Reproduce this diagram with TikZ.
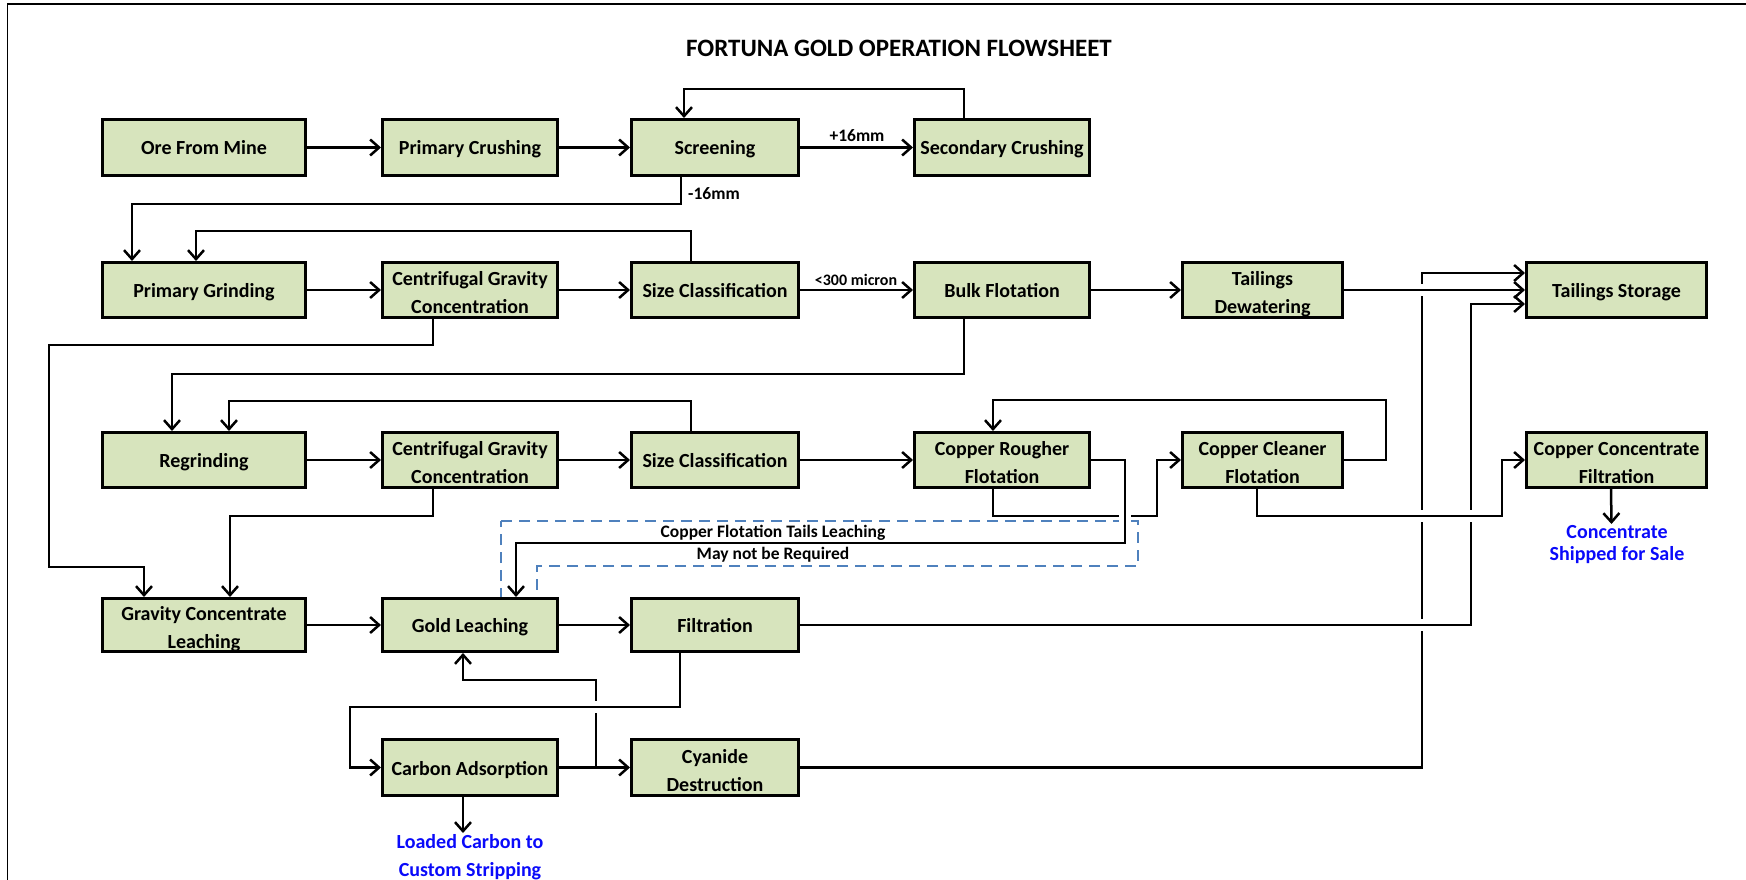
\documentclass[tikz,border=0pt]{standalone}
\usepackage{fontspec}
\setmainfont{Carlito}
\usetikzlibrary{arrows.meta}
\pgfdeclarelayer{wires}
\pgfsetlayers{wires,main}
\definecolor{boxgreen}{RGB}{215,228,189}
\definecolor{noteblue}{RGB}{79,129,189}
\definecolor{outblue}{RGB}{10,10,250}

\begin{document}
\begin{tikzpicture}[x=1pt,y=-1pt,
  >={Straight Barb[length=9pt,width=16pt]},
  box/.style={draw, line width=3pt, fill=boxgreen, inner sep=0pt, align=center,
              font=\bfseries\fontsize{20}{28}\selectfont},
  one/.style={text height=15pt, text depth=0pt},
  two/.style={text height=47pt, text depth=0pt},
  wa/.style={minimum width=203pt}, wb/.style={minimum width=175pt},
  wc/.style={minimum width=167pt}, wd/.style={minimum width=175pt},
  we/.style={minimum width=160pt}, wf/.style={minimum width=180pt},
  ra/.style={minimum height=56pt}, rb/.style={minimum height=55pt},
  rc/.style={minimum height=55pt}, rd/.style={minimum height=53pt},
  re/.style={minimum height=56pt},
  wire/.style={line width=2.5pt, ->},
  over/.style={preaction={draw=white, line width=12pt, -, shorten >=16pt}},
  lbl/.style={inner sep=0pt, font=\bfseries\fontsize{17.5}{21}\selectfont},
  outlbl/.style={inner sep=0pt, align=center, text=outblue, font=\bfseries\fontsize{20}{28}\selectfont},
  dashbox/.style={draw=noteblue, line width=2.2pt, dash pattern=on 11pt off 7pt}
]
\useasboundingbox (0,0) rectangle (1746,880);

% page frame
\draw[line width=2pt] (7,4.5) -- (1746,4.5);
\draw[line width=1.3pt] (7.5,4) -- (7.5,880);

% title
\node[inner sep=0pt, font=\bfseries\fontsize{25}{30}\selectfont] (title) at (899,48) {FORTUNA GOLD OPERATION FLOWSHEET};

% row 1: crushing circuit
\node[box,one,wa,ra] (ore)    at (204,147.5)  {Ore From Mine};
\node[box,one,wb,ra] (pcrush) at (470,147.5)  {Primary Crushing};
\node[box,one,wc,ra] (screen) at (715,147.5)  {Screening};
\node[box,one,wd,ra] (scrush) at (1002,147.5) {Secondary Crushing};

% row 2: grinding and bulk flotation
\node[box,one,wa,rb] (pgrind) at (204,290)    {Primary Grinding};
\node[box,two,wb,rb] (cgca)   at (470,290)    {Centrifugal Gravity\\Concentration};
\node[box,one,wc,rb] (sizea)  at (715,290)    {Size Classification};
\node[box,one,wd,rb] (bulk)   at (1002,290)   {Bulk Flotation};
\node[box,two,we,rb] (tdew)   at (1262.5,290) {Tailings\\Dewatering};
\node[box,one,wf,rb] (tstore) at (1616.5,290) {Tailings Storage};

% row 3: regrind and copper flotation
\node[box,one,wa,rc] (regrind) at (204,460)    {Regrinding};
\node[box,two,wb,rc] (cgcb)    at (470,460)    {Centrifugal Gravity\\Concentration};
\node[box,one,wc,rc] (sizeb)   at (715,460)    {Size Classification};
\node[box,two,wd,rc] (rough)   at (1002,460)   {Copper Rougher\\Flotation};
\node[box,two,we,rc] (clean)   at (1262.5,460) {Copper Cleaner\\Flotation};
\node[box,two,wf,rc] (ccf)     at (1616.5,460) {Copper Concentrate\\Filtration};

% row 4: leaching
\node[box,two,wa,rd] (gcl)    at (204,625) {Gravity Concentrate\\Leaching};
\node[box,one,wb,rd] (gleach) at (470,625) {Gold Leaching};
\node[box,one,wc,rd] (filt)   at (715,625) {Filtration};

% row 5: carbon and detox
\node[box,one,wb,re] (cads) at (470,767.5) {Carbon Adsorption};
\node[box,two,wc,re] (cyan) at (715,767.5) {Cyanide\\Destruction};

% product outlets
\node[outlbl, anchor=north, font=\bfseries\fontsize{20}{22}\selectfont] (conc) at (1617,525) {Concentrate\\Shipped for Sale};
\node[outlbl, anchor=north] (carbon) at (470,834) {Loaded Carbon to\\Custom Stripping};

% stream labels
\node[lbl] (plus)   at (857,136) {+16mm};
\node[lbl, anchor=west] (minus) at (688,194) {-16mm};
\node[lbl, font=\bfseries\fontsize{16}{19}\selectfont] (micron) at (856,280) {<300 micron};
\node[lbl] (note1) at (773,533) {Copper Flotation Tails Leaching};
\node[lbl] (note2) at (773,555) {May not be Required};

\begin{pgfonlayer}{wires}
  % optional copper tails leach
  \draw[dashbox] (501,521) -- (1138,521) -- (1138,566) -- (537,566) -- (537,607) -- (501,607) -- cycle;

  % crushing
  \draw[wire] (ore) -- (pcrush);
  \draw[wire] (pcrush) -- (screen);
  \draw[wire] (screen) -- (scrush);
  \draw[wire] ([xshift=-38pt]scrush.north) |- (684,89) -- ([xshift=-31pt]screen.north);
  \draw[wire] ([xshift=-34pt]screen.south) |- (132,204) -- ([xshift=-72pt]pgrind.north);

  % grinding
  \draw[wire] (pgrind) -- (cgca);
  \draw[wire] (cgca) -- (sizea);
  \draw[wire] ([xshift=-24pt]sizea.north) |- (196,231) -- ([xshift=-8pt]pgrind.north);
  \draw[wire] (sizea) -- (bulk);
  \draw[wire] (bulk) -- (tdew);
  \draw[wire] ([xshift=-37pt]cgca.south) |- (49,345) |- (144,567) -- ([xshift=-60pt]gcl.north);
  \draw[wire] ([xshift=-38pt]bulk.south) |- (172,374) -- ([xshift=-32pt]regrind.north);

  % regrind
  \draw[wire] (regrind) -- (cgcb);
  \draw[wire] (cgcb) -- (sizeb);
  \draw[wire] (sizeb) -- (rough);
  \draw[wire] ([xshift=-24pt]sizeb.north) |- (229,401) -- ([xshift=25pt]regrind.north);
  \draw[wire] ([xshift=-37pt]cgcb.south) |- (230,516) -- ([xshift=26pt]gcl.north);

  % copper flotation
  \draw[wire] ([xshift=-9pt]rough.south) |- (1157,516) |- (clean.west);
  \draw[wire] (clean.east) -- (1386,460) |- (993,400) -- ([xshift=-9pt]rough.north);
  \draw[wire] ([xshift=-5.5pt]ccf.south) -- ([xshift=-5.5pt,yshift=1pt]conc.north);

  % leaching, carbon and detox
  \draw[wire] (gcl) -- (gleach);
  \draw[wire] (gleach) -- (filt);
  \draw[wire] (cads) -- coordinate[pos=0.52] (br) (cyan);
  \draw[wire] (br) |- (463,680) -- ([xshift=-7pt]gleach.south);
  \draw[wire] ([xshift=-7pt]cads.south) -- ([xshift=-7pt,yshift=1pt]carbon.north);
  \draw[wire] (cyan.east) -| (1422,273) -- ([yshift=17pt]tstore.west);

  % continuous streams that bridge over the others
  \draw[wire,over] (rough.east) -- (1125,460) |- (516,543) -- ([xshift=46pt]gleach.north);
  \draw[wire,over] ([xshift=-35pt]filt.south) |- (350,707) |- (cads.west);
  \draw[wire,over] (filt.east) -| (1471,304) -- ([yshift=-14pt]tstore.west);
  \draw[wire,over] ([xshift=-5.5pt]clean.south) |- (1502,516) |- (ccf.west);
  \draw[wire,over] (tdew) -- (tstore);
\end{pgfonlayer}
\end{tikzpicture}
\end{document}
